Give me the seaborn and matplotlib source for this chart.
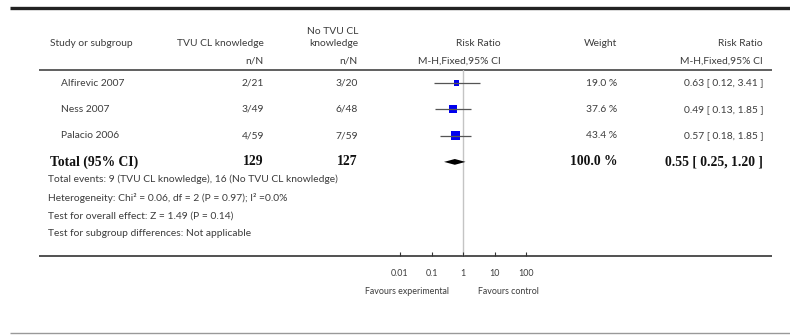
import numpy as np
import pandas as pd
import matplotlib
matplotlib.use("Agg")
import matplotlib.pyplot as plt
import seaborn as sns

# ---- data ----
studies = ["Alfirevic 2007", "Ness 2007", "Palacio 2006"]
exp_events = [2, 3, 4]
exp_total = [21, 49, 59]
ctl_events = [3, 6, 7]
ctl_total = [20, 48, 59]
rr = [0.63, 0.49, 0.57]
rr_lo = [0.12, 0.13, 0.18]
rr_hi = [3.41, 1.85, 1.85]
weights = [19.0, 37.6, 43.4]
total_rr = 0.55
total_lo = 0.25
total_hi = 1.20
total_weight = 100.0
het_text = "Heterogeneity: Chi\u00b2 = 0.06, df = 2 (P = 0.97); I\u00b2 =0.0%"
overall_text = "Test for overall effect: Z = 1.49 (P = 0.14)"
subgroup_text = "Test for subgroup differences: Not applicable"
xticks = [0.01, 0.1, 1, 10, 100]
xtick_labels = ["0.01", "0.1", "1", "10", "100"]

df = pd.DataFrame({"study": studies, "rr": rr, "lo": rr_lo, "hi": rr_hi,
                   "weight": weights})
df["row"] = np.arange(len(df))

sns.set_theme(style="white")
plt.rcParams["font.family"] = ["Lato", "DejaVu Sans"]

W, H = 790, 335
fig = plt.figure(figsize=(W / 100, H / 100), dpi=100)
bg = fig.add_axes([0, 0, 1, 1])
bg.set_xlim(0, W)
bg.set_ylim(H, 0)
bg.axis("off")

txt = "#3c3c3c"
fs = 7.4
ROW0, STEP = 83, 26.3


def row_y(i):
    return ROW0 + STEP * i


# lines
bg.plot([10, 790], [8, 8], color="#222222", lw=2.4, solid_capstyle="butt")
bg.plot([39, 772], [70, 70], color="#444444", lw=1.2, solid_capstyle="butt")
bg.plot([39, 772], [256, 256], color="#333333", lw=1.2, solid_capstyle="butt")
bg.plot([10, 790], [333, 333], color="#999999", lw=1.0, solid_capstyle="butt")

# header
bg.text(50, 43, "Study or subgroup", ha="left", va="center", fontsize=fs, color=txt)
bg.text(264, 43, "TVU CL knowledge", ha="right", va="center", fontsize=fs, color=txt)
bg.text(358, 32, "No TVU CL", ha="right", va="center", fontsize=fs, color=txt)
bg.text(358, 44, "knowledge", ha="right", va="center", fontsize=fs, color=txt)
bg.text(264, 61, "n/N", ha="right", va="center", fontsize=fs, color=txt)
bg.text(358, 61, "n/N", ha="right", va="center", fontsize=fs, color=txt)
bg.text(501, 43, "Risk Ratio", ha="right", va="center", fontsize=fs, color=txt)
bg.text(501, 61, "M-H,Fixed,95% CI", ha="right", va="center", fontsize=fs, color=txt)
bg.text(617, 43, "Weight", ha="right", va="center", fontsize=fs, color=txt)
bg.text(763, 43, "Risk Ratio", ha="right", va="center", fontsize=fs, color=txt)
bg.text(763, 61, "M-H,Fixed,95% CI", ha="right", va="center", fontsize=fs, color=txt)

# study rows
for i, s in enumerate(studies):
    y = row_y(i)
    bg.text(61, y, s, ha="left", va="center", fontsize=fs, color=txt)
    bg.text(264, y, f"{exp_events[i]}/{exp_total[i]}", ha="right", va="center", fontsize=fs, color=txt)
    bg.text(358, y, f"{ctl_events[i]}/{ctl_total[i]}", ha="right", va="center", fontsize=fs, color=txt)
    bg.text(617, y, f"{weights[i]:.1f} %", ha="right", va="center", fontsize=fs, color=txt)
    bg.text(763, y, f"{rr[i]:.2f} [ {rr_lo[i]:.2f}, {rr_hi[i]:.2f} ]", ha="right",
            va="center", fontsize=fs, color=txt)

# total row
ty = row_y(len(studies))
serif = ["Liberation Serif", "DejaVu Serif"]
bfs = 9.8
bg.text(50, ty, "Total (95% CI)", ha="left", va="center", fontsize=bfs,
        fontweight="bold", family=serif, color="#111111")
bg.text(264, ty, f"{sum(exp_total)}", ha="right", va="center", fontsize=bfs,
        fontweight="bold", family=serif, color="#111111")
bg.text(358, ty, f"{sum(ctl_total)}", ha="right", va="center", fontsize=bfs,
        fontweight="bold", family=serif, color="#111111")
bg.text(617, ty, f"{total_weight:.1f} %", ha="right", va="center", fontsize=bfs,
        fontweight="bold", family=serif, color="#111111")
bg.text(763, ty, f"{total_rr:.2f} [ {total_lo:.2f}, {total_hi:.2f} ]", ha="right",
        va="center", fontsize=bfs, fontweight="bold", family=serif, color="#111111")

# footnotes
bg.text(48, 179, f"Total events: {sum(exp_events)} (TVU CL knowledge), "
        f"{sum(ctl_events)} (No TVU CL knowledge)", ha="left", va="center",
        fontsize=fs, color=txt)
bg.text(48, 198, het_text, ha="left", va="center", fontsize=fs, color=txt)
bg.text(48, 216, overall_text, ha="left", va="center", fontsize=fs, color=txt)
bg.text(48, 234, subgroup_text, ha="left", va="center", fontsize=fs, color=txt)

# favours
bg.text(407, 291, "Favours experimental", ha="center", va="center", fontsize=6.4, color=txt)
bg.text(508, 291, "Favours control", ha="center", va="center", fontsize=6.4, color=txt)

# forest axes: x 0.01..100 -> px 400..526 ; y px 70..256
x0, x1 = 400, 526
y0, y1 = 70, 256
ax = fig.add_axes([x0 / W, 1 - y1 / H, (x1 - x0) / W, (y1 - y0) / H])
ax.set_xscale("log")
ax.set_xlim(0.01, 100)
ax.set_ylim((y1 - ROW0) / STEP, (y0 - ROW0) / STEP)
ax.patch.set_alpha(0)
for sp in ax.spines.values():
    sp.set_visible(False)
ax.axvline(1, color="#c4c4c4", lw=1.0, zorder=0)

sns.scatterplot(data=df, x="rr", y="row", marker="s", color="#0000ee",
                s=df["weight"] * 0.85, linewidth=0, ax=ax, zorder=3, legend=False)
ax.hlines(df["row"], df["lo"], df["hi"], color="#555555", lw=0.9, zorder=4)

trow = len(studies)
dh = 0.11
ax.fill([total_lo, total_rr, total_hi, total_rr],
        [trow, trow - dh, trow, trow + dh], color="#000000", lw=0, zorder=3)

ax.set_xticks(xticks)
ax.set_xticklabels(xtick_labels)
ax.xaxis.set_minor_locator(matplotlib.ticker.NullLocator())
ax.tick_params(axis="x", direction="in", length=3, width=0.8, color="#333333",
               pad=9, labelsize=6.4, labelcolor=txt, bottom=True)
ax.set_yticks([])
ax.set_xlabel("")
ax.set_ylabel("")
ax.grid(False)

fig.savefig("out.png", dpi=100)
